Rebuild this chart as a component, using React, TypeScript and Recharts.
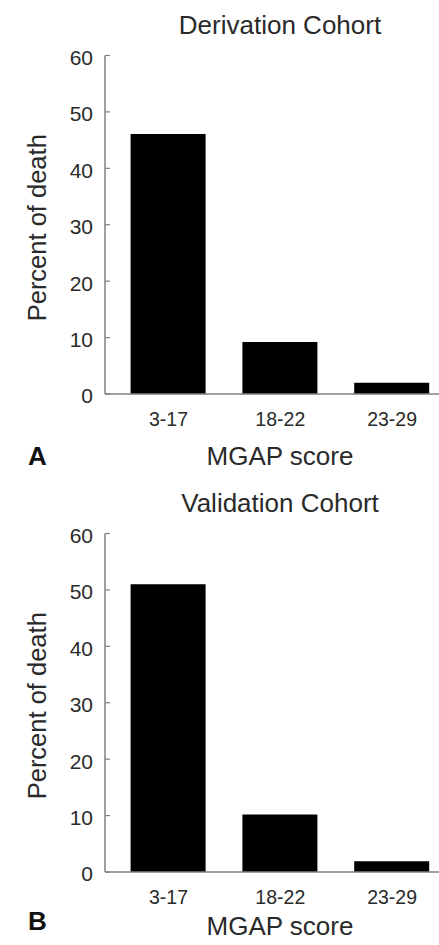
import React from 'react';
import { BarChart, Bar, XAxis, YAxis } from 'recharts';

const scoreGroups = ['3-17', '18-22', '23-29'];
const derivationDeath = [46.1, 9.2, 2.0];
const validationDeath = [51.0, 10.2, 1.9];
const yTicks = [0, 10, 20, 30, 40, 50, 60];

const FONT = '"Liberation Sans", Arial, sans-serif';
const TEXT = '#2a2a2a';
const AXIS = '#808080';

const W = 460;
const H = 478;

// y label drawn from the axis viewBox
const YLabel = ({ viewBox }: any) => {
  const cx = 37;
  const cy = viewBox.y + viewBox.height / 2 + 3;
  return (
    <text
      x={cx}
      y={cy}
      transform={`rotate(-90 ${cx} ${cy})`}
      textAnchor="middle"
      dominantBaseline="central"
      fontSize={25.5}
      fontFamily={FONT}
      fill={TEXT}
    >
      Percent of death
    </text>
  );
};

interface PanelProps {
  title: string;
  letter: string;
  values: number[];
  top: number;
  labelShift: number;
  letterShift: number;
}

const Panel: React.FC<PanelProps> = ({ title, letter, values, top, labelShift, letterShift }) => {
  const data = scoreGroups.map((g, i) => ({ group: g, value: values[i] }));
  return (
    <div style={{ position: 'absolute', left: 0, top, width: W, height: H }}>
      <BarChart
        width={W}
        height={H}
        data={data}
        margin={{ top: 55.5, right: 12, bottom: 54, left: 0 }}
      >
        <XAxis
          dataKey="group"
          height={30}
          padding={{ left: 7.6, right: 0 }}
          axisLine={{ stroke: AXIS, strokeWidth: 1.5 }}
          tickLine={false}
          tickSize={0}
          tickMargin={18}
          tick={{ fontSize: 19.5, fontFamily: FONT, fill: TEXT }}
        />
        <YAxis
          width={105}
          domain={[0, 60]}
          ticks={yTicks}
          interval={0}
          axisLine={{ stroke: AXIS, strokeWidth: 1.5 }}
          tickLine={{ stroke: AXIS, strokeWidth: 1.2 }}
          tickSize={-5}
          tickMargin={17}
          tick={{ fontSize: 21, fontFamily: FONT, fill: TEXT, dy: 2 }}
          label={<YLabel />}
        />
        <Bar dataKey="value" fill="#000" barSize={75} isAnimationActive={false} />
      </BarChart>
      <svg
        width={W}
        height={H}
        style={{ position: 'absolute', left: 0, top: 0, pointerEvents: 'none' }}
      >
        <text x={280} y={34} textAnchor="middle" fontSize={26} fontFamily={FONT} fill={TEXT}>
          {title}
        </text>
        <text x={280} y={465 - labelShift} textAnchor="middle" fontSize={26} fontFamily={FONT} fill={TEXT}>
          MGAP score
        </text>
        <text x={28} y={465 - letterShift} fontSize={26} fontWeight="bold" fontFamily={FONT} fill="#111">
          {letter}
        </text>
      </svg>
    </div>
  );
};

export default function App() {
  return (
    <div
      style={{
        position: 'absolute',
        left: 0,
        top: 0,
        width: 439,
        height: 945,
        overflow: 'hidden',
        background: '#fff',
      }}
    >
      <Panel title="Derivation Cohort" letter="A" values={derivationDeath} top={0} labelShift={0} letterShift={0} />
      <Panel title="Validation Cohort" letter="B" values={validationDeath} top={478} labelShift={8} letterShift={13} />
    </div>
  );
}
